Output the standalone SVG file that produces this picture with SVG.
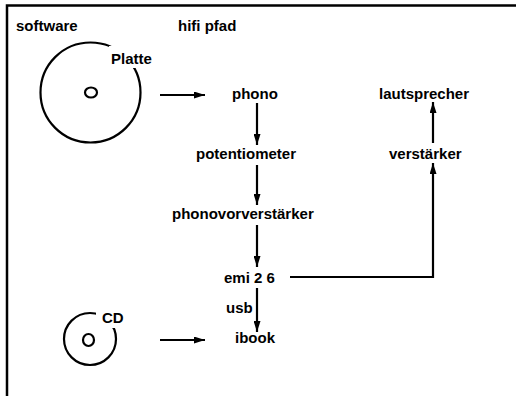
<svg xmlns="http://www.w3.org/2000/svg" width="516" height="396" viewBox="0 0 516 396">
<defs>
<style>
text{font-family:"Liberation Sans",Arial,sans-serif;font-weight:bold;font-size:15px;fill:#000}
.ln{fill:none;stroke:#000;stroke-width:2.2}
.bg{fill:#fff}
</style>
<marker id="ah" viewBox="0 0 11 7" refX="11" refY="3.5" markerWidth="11" markerHeight="7" markerUnits="userSpaceOnUse" orient="auto">
<path d="M0,0 L11,3.5 L0,7 Z" fill="#000"/>
</marker>
</defs>
<rect width="516" height="396" fill="#fff"/>
<path d="M7,396 V5.5 H516" fill="none" stroke="#000" stroke-width="2.5"/>
<g id="labels">
<text x="16" y="31">software</text>
<text x="178" y="31">hifi pfad</text>
</g>
<g id="platte">
<circle class="ln" cx="90.5" cy="92.5" r="50"/>
<ellipse class="ln" cx="91" cy="92.5" rx="6" ry="5"/>
<rect class="bg" x="109" y="46" width="46" height="22"/>
<text x="111" y="64">Platte</text>
</g>
<g id="cd">
<circle class="ln" cx="90" cy="339" r="26"/>
<ellipse class="ln" cx="88.5" cy="340" rx="5.5" ry="6"/>
<rect class="bg" x="96" y="308" width="30" height="20"/>
<text x="102" y="323">CD</text>
</g>
<g id="phono"><text x="232" y="99">phono</text></g>
<g id="potentiometer"><text x="196" y="159">potentiometer</text></g>
<g id="phonovorverstaerker"><text x="172" y="219">phonovorverstärker</text></g>
<g id="emi"><text x="224" y="283">emi 2 6</text></g>
<g id="ibook"><text x="235" y="343">ibook</text></g>
<g id="verstaerker"><text x="389" y="159">verstärker</text></g>
<g id="lautsprecher"><text x="379" y="99">lautsprecher</text></g>
<g id="connectors">
<path class="ln" d="M160,95 H205" marker-end="url(#ah)"/>
<path class="ln" d="M160,340 H205" marker-end="url(#ah)"/>
<path class="ln" d="M257,103 V145" marker-end="url(#ah)"/>
<path class="ln" d="M257,165 V205" marker-end="url(#ah)"/>
<path class="ln" d="M257,225 V267" marker-end="url(#ah)"/>
<path class="ln" d="M257,288 V332" marker-end="url(#ah)"/>
<path class="ln" d="M433,143 V102" marker-end="url(#ah)"/>
<path class="ln" d="M290,277 H433 V163" marker-end="url(#ah)"/>
<text x="226" y="313">usb</text>
</g>
</svg>
